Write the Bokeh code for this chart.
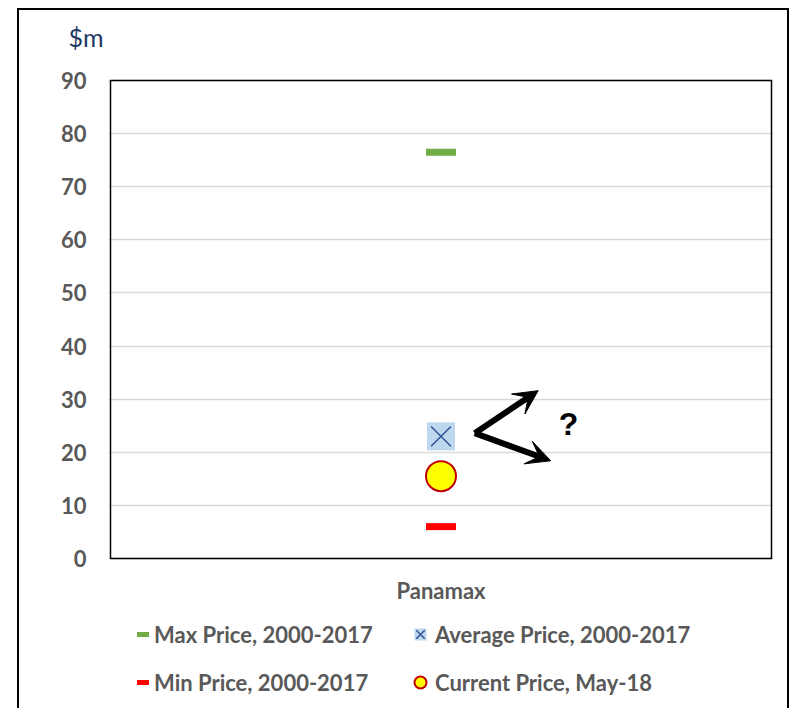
from bokeh.plotting import figure
from bokeh.models import (Range1d, FixedTicker, Legend, LegendItem, Arrow,
                          VeeHead, Label, BoxAnnotation, Title)
from bokeh.embed import file_html
from bokeh.resources import INLINE

# ---- data ----
category = ["Panamax"]
cat_pos = [0.5]
max_price = [76.5]
avg_price = [23.0]
min_price = [6.0]
current_price = [15.5]
y_ticks = [0, 10, 20, 30, 40, 50, 60, 70, 80, 90]
y_min, y_max = 0, 90
arrow_start_x = 0.551
arrow_start_y = 23.6
arrow_end_x = [0.647, 0.666]
arrow_end_y = [31.6, 18.4]
question_x = 0.693
question_y = 25.4

GREY = "#595959"
FONT = "Lato"
NAN = float("nan")

# ---- layout (pixels) ----
PLOT_W = 661          # width of the value box
PLOT_H = 478          # height of the value box (0..90)
PAD = 2               # frame padding around the value box
BELOW = 152           # room below the value box for category label + legend
px_per_unit = PLOT_H / (y_max - y_min)
x_pad = PAD / PLOT_W

p = figure(width=772, height=700,
           x_range=Range1d(-x_pad, 1 + x_pad),
           y_range=Range1d(y_min - BELOW / px_per_unit, y_max + PAD / px_per_unit),
           output_backend="svg", toolbar_location=None, x_axis_location=None,
           min_border_left=89, min_border_right=18, min_border_top=68,
           min_border_bottom=0)
p.margin = (8, 0, 0, 17)
p.styles = {"border-top": "2px solid black", "border-left": "2px solid black",
            "border-right": "2px solid black"}
p.outline_line_color = None

# white spacer next to the frame, then the unit title above it
p.title.text = ""
p.add_layout(Title(text=".", standoff=7, text_font=FONT, text_font_size="25px",
                   text_color="white"), "above")
p.add_layout(Title(text="$m", align="left", offset=-40, standoff=0,
                   text_font=FONT, text_font_style="normal", text_font_size="25px",
                   text_color="#1f3864"), "above")

p.xgrid.grid_line_color = None
p.ygrid.grid_line_color = "#d9d9d9"
p.ygrid.grid_line_width = 1.5

p.yaxis.ticker = FixedTicker(ticks=y_ticks)
p.yaxis.axis_line_color = None
p.yaxis.major_tick_line_color = None
p.yaxis.minor_tick_line_color = None
p.yaxis.major_tick_out = 0
p.yaxis.major_tick_in = 0
p.yaxis.minor_tick_out = 0
p.yaxis.major_label_text_font = FONT
p.yaxis.major_label_text_font_style = "bold"
p.yaxis.major_label_text_color = GREY
p.yaxis.major_label_text_font_size = "22px"
p.yaxis.major_label_standoff = 22

# value box outline
p.add_layout(BoxAnnotation(left=0, right=1, bottom=y_min, top=y_max,
                           fill_alpha=0, line_color="black", line_alpha=1,
                           line_width=1.5))

# category label
p.add_layout(Label(x=cat_pos[0], y=y_min - 32 / px_per_unit, text=category[0],
                   text_font=FONT, text_font_style="bold", text_font_size="22px",
                   text_color=GREY, text_align="center", text_baseline="middle"))

r_max = p.rect(x=cat_pos, y=max_price, width=30, height=7, width_units="screen",
               height_units="screen", fill_color="#70ad47", line_color=None)
r_min = p.rect(x=cat_pos, y=min_price, width=30, height=7, width_units="screen",
               height_units="screen", fill_color="#ff0000", line_color=None)
r_avg_sq = p.scatter(x=cat_pos, y=avg_price, marker="square", size=28,
                     fill_color="#bdd7ee", line_color=None)
r_avg_x = p.scatter(x=cat_pos, y=avg_price, marker="x", size=28,
                    line_color="#2f5597", line_width=1.5)
r_cur = p.scatter(x=cat_pos, y=current_price, marker="circle", size=30,
                  fill_color="#ffff00", line_color="#c00000", line_width=2)

# legend proxies for the dash glyphs (draw nothing in the plot)
leg_max = p.line(x=[cat_pos[0], cat_pos[0]], y=[NAN, NAN], line_color="#70ad47",
                 line_width=5, line_cap="round")
leg_min = p.line(x=[cat_pos[0], cat_pos[0]], y=[NAN, NAN], line_color="#ff0000",
                 line_width=5, line_cap="round")

for (ex, ey) in zip(arrow_end_x, arrow_end_y):
    p.add_layout(Arrow(x_start=arrow_start_x, y_start=arrow_start_y, x_end=ex, y_end=ey,
                       line_color="black", line_width=6,
                       end=VeeHead(size=24, fill_color="black", line_color="black")))

p.add_layout(Label(x=question_x, y=question_y, text="?", text_font="Liberation Sans",
                   text_font_style="bold", text_font_size="32px", text_color="black",
                   text_align="center", text_baseline="middle"))

def add_legend(label, renderers, loc, gw, standoff):
    leg = Legend(items=[LegendItem(label=label, renderers=renderers)], location=loc,
                 orientation="horizontal", glyph_width=gw, glyph_height=32,
                 label_height=32, label_standoff=standoff, padding=0, margin=0,
                 spacing=0, border_line_color=None, background_fill_alpha=0,
                 label_text_font=FONT, label_text_font_style="bold",
                 label_text_font_size="22px", label_text_color=GREY)
    p.add_layout(leg, "center")

add_legend("Max Price, 2000-2017", [leg_max], (29, 60), 12, 5)
add_legend("Min Price, 2000-2017", [leg_min], (29, 12), 12, 5)
add_legend("Average Price, 2000-2017", [r_avg_sq, r_avg_x], (297, 60), 30, 0)
add_legend("Current Price, May-18", [r_cur], (297, 12), 30, 0)

open("out.html", "w").write(file_html(p, INLINE))
